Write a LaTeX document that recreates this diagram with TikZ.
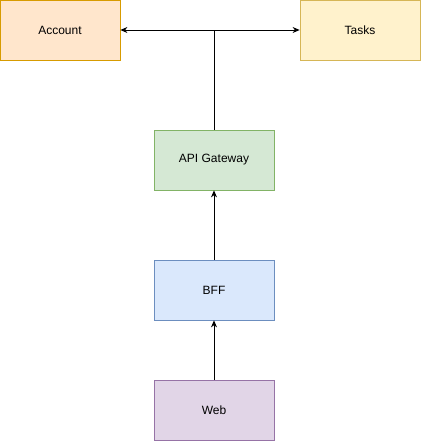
\documentclass[tikz,border=0pt]{standalone}
\usepackage{fontspec}
\setmainfont{Liberation Sans}
\definecolor{accFill}{HTML}{FFE6CC}
\definecolor{accLine}{HTML}{D79B00}
\definecolor{taskFill}{HTML}{FFF2CC}
\definecolor{taskLine}{HTML}{D6B656}
\definecolor{gwFill}{HTML}{D5E8D4}
\definecolor{gwLine}{HTML}{82B366}
\definecolor{bffFill}{HTML}{DAE8FC}
\definecolor{bffLine}{HTML}{6C8EBF}
\definecolor{webFill}{HTML}{E1D5E7}
\definecolor{webLine}{HTML}{9673A6}
\usetikzlibrary{arrows.meta, positioning}

\begin{document}
\begin{tikzpicture}[x=1pt, y=-1pt, font=\fontsize{12}{14}\selectfont,
    box/.style={draw, line width=0.8pt, minimum width=120pt, minimum height=60pt, inner sep=0pt},
    link/.style={line width=0.8pt, -{Stealth[length=7pt, width=6pt]}}]
  \useasboundingbox (0,0) rectangle (421,441);
  % services
  \node[box, draw=accLine, fill=accFill]   (account) at (60,30)   {Account};
  \node[box, draw=taskLine, fill=taskFill] (tasks)   at (360,30)  {Tasks};
  % request path
  \node[box, draw=gwLine, fill=gwFill]     (gateway) at (214,160) {API Gateway};
  \node[box, draw=bffLine, fill=bffFill]   (bff)     at (214,290) {BFF};
  \node[box, draw=webLine, fill=webFill]   (web)     at (214,410) {Web};
  \coordinate (split) at (gateway.north |- account.east);
  \draw[link] (web) -- (bff);
  \draw[link] (bff) -- (gateway);
  \draw[line width=0.8pt] (gateway) -- (split);
  \draw[link] (split) -- (account);
  \draw[link] (split) -- (tasks);
\end{tikzpicture}
\end{document}
